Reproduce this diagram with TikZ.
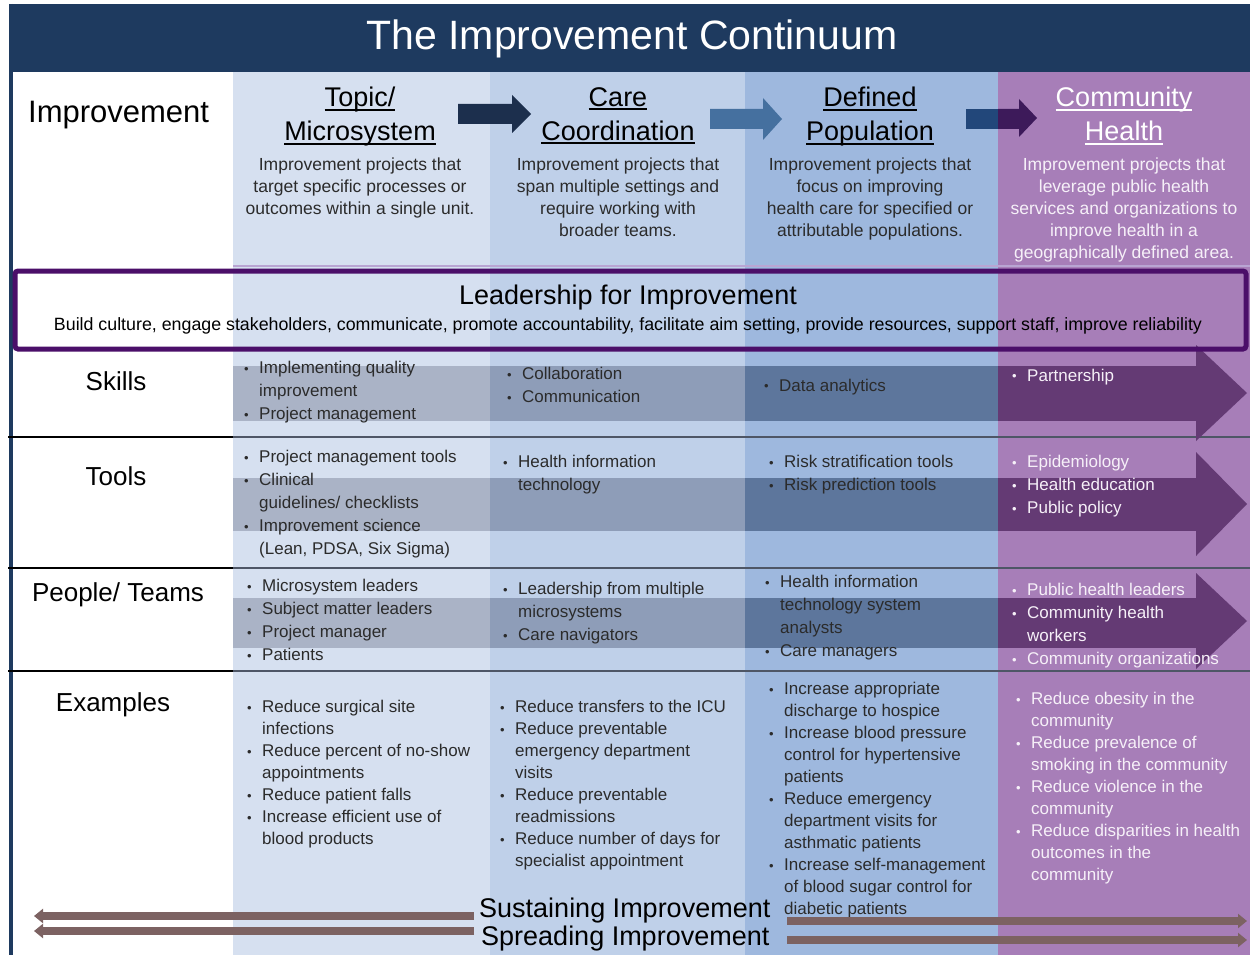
\documentclass[tikz,border=0pt]{standalone}
\usepackage{fontspec}
\setmainfont{Liberation Sans}
\usetikzlibrary{arrows.meta}

\definecolor{navy}{HTML}{1E3A5F}
\definecolor{colA}{HTML}{D6E0F0}
\definecolor{colB}{HTML}{BFD0E9}
\definecolor{colC}{HTML}{9EB8DE}
\definecolor{colD}{HTML}{A77EB8}
\definecolor{bandA}{HTML}{AAB3C6}
\definecolor{bandB}{HTML}{8E9DB8}
\definecolor{bandC}{HTML}{5D769C}
\definecolor{bandD}{HTML}{643A74}
\definecolor{leadpurple}{HTML}{4B0F69}
\definecolor{leadline}{HTML}{B9A5D3}
\definecolor{txtdark}{HTML}{2B2B2B}
\definecolor{txtlight}{HTML}{F6F0F8}
\definecolor{rowline}{HTML}{4E5666}
\definecolor{spread}{HTML}{7C6262}
\definecolor{arrowA}{HTML}{1C2F4D}
\definecolor{arrowB}{HTML}{45709F}
\definecolor{arrowC}{HTML}{22477A}
\definecolor{arrowD}{HTML}{3D1A5A}

% bullet and hanging indent for list cells
\newcommand\bul{\makebox[15pt][l]{\raisebox{0.5pt}{\fontsize{13}{13}\selectfont\textbullet}}}
\newcommand\ind{\hspace*{15pt}}
% heading underline at a fixed distance below the baseline
\newcommand\hul[1]{\setbox0\hbox{#1}\rlap{\rule[-4pt]{\wd0}{1.8pt}}\box0}
% band with arrow head running across the four columns
\newcommand\contband[4]{%
  \fill[bandA] (233,#1) rectangle (490,#2);
  \fill[bandB] (490,#1) rectangle (745,#2);
  \fill[bandC] (745,#1) rectangle (998,#2);
  \fill[bandD] (998,#1) rectangle (1197,#2);
  \fill[bandD] (1196,#3) -- (1247,{(#3+#4)/2}) -- (1196,#4) -- cycle;}

\begin{document}
\begin{tikzpicture}[x=1pt,y=-1pt,
  lbl/.style={inner sep=0pt, font=\fontsize{26}{30}\selectfont, text=black},
  hdr/.style={inner sep=0pt, anchor=north, align=center,
    font=\fontsize{27}{34}\selectfont, execute at begin node={\rule{0pt}{21pt}}},
  desc/.style={inner sep=0pt, anchor=north, align=center,
    font=\fontsize{17.5}{22}\selectfont, execute at begin node={\rule{0pt}{14pt}}},
  cell/.style={inner sep=0pt, anchor=north west, align=left,
    font=\fontsize{17}{23}\selectfont, execute at begin node={\rule{0pt}{14pt}}},
  excell/.style={cell, font=\fontsize{17}{22}\selectfont},
  dk/.style={text=txtdark}, lt/.style={text=txtlight},
  spreadarrow/.style={draw=spread, line width=8pt, -{Triangle[length=9pt,width=14pt]}},
]
\useasboundingbox (0,0) rectangle (1250,955);
\fill[white] (0,0) rectangle (1250,955);

% column backgrounds
\fill[colA] (233,72) rectangle (490,955);
\fill[colB] (490,72) rectangle (745,955);
\fill[colC] (745,72) rectangle (998,955);
\fill[colD] (998,72) rectangle (1250,955);

% title bar and frame
\fill[navy] (10,4) rectangle (1250,72);
\draw[navy, line width=4pt] (11,4) -- (11,955);
\node[text=white, font=\fontsize{41}{46}\selectfont] (title) at (632,39) {The Improvement Continuum};

% row separators
\foreach \yy in {437,568,671}{
  \draw[black, line width=1.5pt] (8,\yy) -- (233,\yy);
  \draw[rowline, line width=2pt] (233,\yy) -- (1250,\yy);
}
\draw[leadline, line width=1.5pt] (233,266) -- (1250,266);

% continuum bands
\contband{366}{421}{345}{441}
\contband{478}{531}{452}{556}
\contband{598}{648}{573}{669}

% leadership frame
\draw[leadpurple, line width=5pt, rounded corners=3pt] (15,271) rectangle (1246,349);
\node[font=\fontsize{27}{30}\selectfont] (lead) at (628,298) {Leadership for Improvement};
\node[font=\fontsize{17.8}{20}\selectfont] (leadsub) at (628,326) {Build culture, engage stakeholders, communicate, promote accountability, facilitate aim setting, provide resources, support staff, improve reliability};

% arrows between stages
\fill[arrowA] (458,104) -- (512,104) -- (512,95) -- (531,114) -- (512,133) -- (512,124) -- (458,124) -- cycle;
\fill[arrowB] (710,109) -- (763,109) -- (763,98) -- (782,119) -- (763,140) -- (763,129) -- (710,129) -- cycle;
\fill[arrowC] (966,109) rectangle (998,129);
\fill[arrowD] (998,109) -- (1019,109) -- (1019,99) -- (1037,118) -- (1019,137) -- (1019,129) -- (998,129) -- cycle;

% row labels
\node[lbl, anchor=west, font=\fontsize{31}{34}\selectfont] (lImp) at (28,115) {Improvement};
\node[lbl] (lSkills) at (116,381) {Skills};
\node[lbl] (lTools) at (116,476) {Tools};
\node[lbl] (lPeople) at (118,595) {People/ Teams};
\node[lbl] (lEx) at (113,705) {Examples};

% stage headings
\node[hdr, text=black] (h1) at (360,87) {\hul{Topic/}\\\hul{Microsystem}};
\node[hdr, text=black] (h2) at (618,87) {\hul{Care}\\\hul{Coordination}};
\node[hdr, text=black] (h3) at (870,87) {\hul{Defined}\\\hul{Population}};
\node[hdr, text=white] (h4) at (1124,87) {\hul{Community}\\\hul{Health}};

\node[desc, dk] (d1) at (360,158) {Improvement projects that\\target specific processes or\\outcomes within a single unit.};
\node[desc, dk] (d2) at (618,158) {Improvement projects that\\span multiple settings and\\require working with\\broader teams.};
\node[desc, dk] (d3) at (870,158) {Improvement projects that\\focus on improving\\health care for specified or\\attributable populations.};
\node[desc, lt] (d4) at (1124,158) {Improvement projects that\\leverage public health\\services and organizations to\\improve health in a\\geographically defined area.};

% skills
\node[cell, dk] (s1) at (244,361) {\bul Implementing quality\\\ind improvement\\\bul Project management};
\node[cell, dk] (s2) at (507,367) {\bul Collaboration\\\bul Communication};
\node[cell, dk] (s3) at (764,377) {\bul Data analytics};
\node[cell, lt] (s4) at (1012,367) {\bul Partnership};

% tools
\node[cell, dk] (t1) at (244,450) {\bul Project management tools\\\bul Clinical\\\ind guidelines/ checklists\\\bul Improvement science\\\ind (Lean, PDSA, Six Sigma)};
\node[cell, dk] (t2) at (503,455) {\bul Health information\\\ind technology};
\node[cell, dk] (t3) at (769,455) {\bul Risk stratification tools\\\bul Risk prediction tools};
\node[cell, lt] (t4) at (1012,455) {\bul Epidemiology\\\bul Health education\\\bul Public policy};

% people and teams
\node[cell, dk] (p1) at (247,579) {\bul Microsystem leaders\\\bul Subject matter leaders\\\bul Project manager\\\bul Patients};
\node[cell, dk] (p2) at (503,582) {\bul Leadership from multiple\\\ind microsystems\\\bul Care navigators};
\node[cell, dk] (p3) at (765,575) {\bul Health information\\\ind technology system\\\ind analysts\\\bul Care managers};
\node[cell, lt] (p4) at (1012,583) {\bul Public health leaders\\\bul Community health\\\ind workers\\\bul Community organizations};

% examples
\node[excell, dk] (e1) at (247,700) {\bul Reduce surgical site\\\ind infections\\\bul Reduce percent of no-show\\\ind appointments\\\bul Reduce patient falls\\\bul Increase efficient use of\\\ind blood products};
\node[excell, dk] (e2) at (500,700) {\bul Reduce transfers to the ICU\\\bul Reduce preventable\\\ind emergency department\\\ind visits\\\bul Reduce preventable\\\ind readmissions\\\bul Reduce number of days for\\\ind specialist appointment};
\node[excell, dk] (e3) at (769,682) {\bul Increase appropriate\\\ind discharge to hospice\\\bul Increase blood pressure\\\ind control for hypertensive\\\ind patients\\\bul Reduce emergency\\\ind department visits for\\\ind asthmatic patients\\\bul Increase self-management\\\ind of blood sugar control for\\\ind diabetic patients};
\node[excell, lt] (e4) at (1016,692) {\bul Reduce obesity in the\\\ind community\\\bul Reduce prevalence of\\\ind smoking in the community\\\bul Reduce violence in the\\\ind community\\\bul Reduce disparities in health\\\ind outcomes in the\\\ind community};

% sustaining and spreading
\node[anchor=west, inner sep=0pt, font=\fontsize{27}{30}\selectfont] (sust) at (479,911) {Sustaining Improvement};
\node[anchor=west, inner sep=0pt, font=\fontsize{27}{30}\selectfont] (sprd) at (481,939) {Spreading Improvement};
\coordinate (sustL0) at (474,916); \coordinate (sustL1) at (34,916);
\coordinate (sprdL0) at (474,931); \coordinate (sprdL1) at (34,931);
\coordinate (sustR0) at (787,921); \coordinate (sustR1) at (1247,921);
\coordinate (sprdR0) at (787,940); \coordinate (sprdR1) at (1247,940);
\draw[spreadarrow] (sustL0) -- (sustL1);
\draw[spreadarrow] (sprdL0) -- (sprdL1);
\draw[spreadarrow] (sustR0) -- (sustR1);
\draw[spreadarrow] (sprdR0) -- (sprdR1);
\end{tikzpicture}
\end{document}
